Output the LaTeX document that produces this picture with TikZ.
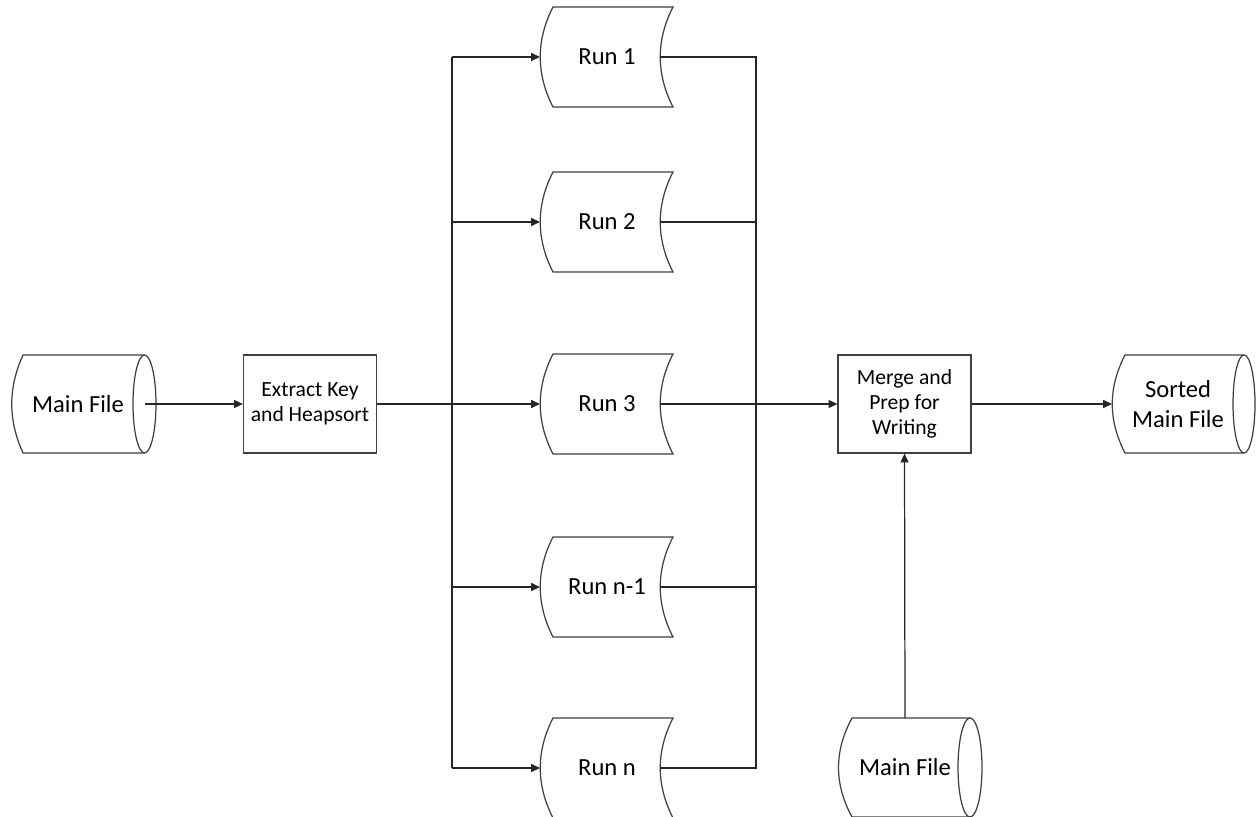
\documentclass[tikz,border=0pt]{standalone}
\usepackage{fontspec}
\setmainfont{Carlito}
\usetikzlibrary{arrows.meta}
\begin{document}
\begin{tikzpicture}[x=0.02cm,y=-0.02cm,
  outline/.style={draw=black!75,line width=0.7pt,fill=white},
  conn/.style={draw=black!85,line width=0.7pt},
  arr/.style={conn,-{Triangle[length=5pt,width=4.5pt]}},
  big/.style={font=\fontsize{14}{17}\selectfont,align=center,inner sep=0pt},
  small/.style={font=\fontsize{12.3}{14.2}\selectfont,align=center,inner sep=0pt},
  procbox/.style={outline,minimum width=2.66cm,minimum height=1.96cm,small}]
\useasboundingbox (0,0) rectangle (1257,817);

% Main File (left)
\draw[outline] (144.5,355) -- (23,355) .. controls (8,388) and (8,420) .. (23,453) -- (144.5,453);
\draw[outline] (144.5,404) ellipse [x radius=11.5, y radius=49];
\node[big] (mf1) at (78,404) {Main File};
\coordinate (mf1c) at (144.5,404);

% Extract Key box
\node[procbox] (ek) at (310,404) {Extract Key\\and Heapsort};

% Runs
\foreach \n/\y/\t in {r1/57/Run 1,r2/222/Run 2,r3/404/Run 3,r4/587/Run n-1,r5/768/Run n}{
  \draw[outline] (553,\y-50) -- (673,\y-50) .. controls (656,\y-17) and (656,\y+17) .. (673,\y+50)
     -- (553,\y+50) .. controls (536,\y+17) and (536,\y-17) .. cycle;
  \node[big] (\n) at (607,\y) {\t};
  \coordinate (\n w) at (540,\y);
  \coordinate (\n e) at (660,\y);
}
\coordinate (lbx) at (452,0);
\coordinate (rbx) at (756,0);

% Merge box
\node[procbox] (mg) at (904.5,404) {Merge and\\Prep for\\Writing};

% Sorted Main File
\draw[outline] (1244,355) -- (1125,355) .. controls (1108,388) and (1108,420) .. (1125,453) -- (1244,453);
\draw[outline] (1244,404) ellipse [x radius=11, y radius=49];
\node[big,font=\fontsize{14}{17.5}\selectfont] (sm) at (1178,404) {Sorted\\Main File};
\coordinate (smw) at (1112,404);

% Main File (bottom)
\draw[outline] (970,718) -- (852,718) .. controls (834,751) and (834,784) .. (852,817) -- (970,817);
\draw[outline] (970,767.5) ellipse [x radius=12, y radius=49.5];
\node[big] (mf2) at (905,767.5) {Main File};
\coordinate (mf2t) at (905,718);

% connectors
\draw[arr] (mf1c) -- (ek.west);
\draw[arr] (ek.east) -- (r3w);
\draw[conn] (r1w -| lbx) -- (r5w -| lbx);
\foreach \n in {r1,r2,r4,r5}{
  \draw[arr] (\n w -| lbx) -- (\n w);
}
\draw[conn] (r1e) -- (r1e -| rbx) -- (r5e -| rbx) -- (r5e);
\draw[conn] (r2e) -- (r2e -| rbx);
\draw[conn] (r4e) -- (r4e -| rbx);
\draw[arr] (r3e) -- (mg.west);
\draw[arr] (mg.east) -- (smw);
\draw[arr] (mf2t) -- (mg.south);
\end{tikzpicture}
\end{document}
